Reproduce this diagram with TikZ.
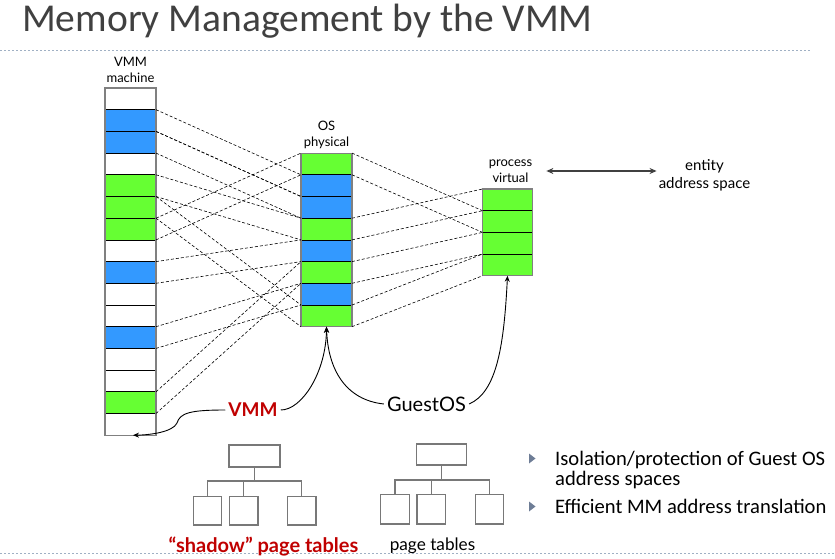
\documentclass[tikz,border=0pt]{standalone}
\usepackage{fontspec}
\setmainfont{Lato}
\newfontfamily\titlefont{Carlito}
\usetikzlibrary{arrows.meta}
\definecolor{cblue}{RGB}{51,153,255}
\definecolor{cgreen}{RGB}{102,255,51}
\definecolor{cred}{RGB}{192,0,0}
\definecolor{sepcol}{RGB}{160,176,196}
\definecolor{titlecol}{RGB}{64,64,64}
\definecolor{bulcol}{RGB}{110,125,150}
\definecolor{boxgray}{RGB}{120,120,120}
\begin{document}
\begin{tikzpicture}[x=1pt,y=-1pt,
  cell/.style={draw=black, line width=0.8pt, minimum width=51pt, minimum height=21.7pt, inner sep=0pt, outer sep=0pt},
  map/.style={dash pattern=on 3pt off 2pt, line width=0.6pt},
  lbl/.style={font=\fontsize{13}{16.5}\selectfont, align=center, inner sep=0pt},
  curvearr/.style={line width=0.9pt, -{Stealth[length=6pt,width=5pt]}},
  sep/.style={sepcol, dash pattern=on 2pt off 2pt, line width=0.8pt},
  tbox/.style={draw=boxgray, line width=1.2pt, inner sep=0pt, outer sep=0pt},
  tline/.style={boxgray, line width=1.2pt},
  bultext/.style={font=\titlefont\fontsize{20.6}{19.5}\selectfont, align=left, inner sep=0pt}
]
\useasboundingbox (0,0) rectangle (835,559);

% title and separators
\node[anchor=base west, font=\titlefont\fontsize{39.5}{42}\selectfont, text=titlecol, inner sep=0pt] (title) at (22,32) {Memory Management by the VMM};
\draw[sep] (0,50) -- (810,50);
\draw[sep] (0,553) -- (835,553);

% VMM machine column
\foreach \c [count=\i from 0] in {white,cblue,cblue,white,cgreen,cgreen,cgreen,white,cblue,white,white,cblue,white,white,cgreen,white}
  \node[cell, fill=\c, anchor=north] (L\i) at (130.5,{88+\i*21.7}) {};
\draw[gray, line width=1.2pt] (L0.north west) rectangle (L15.south east);

% OS physical column
\foreach \c [count=\i from 0] in {cgreen,cblue,cblue,cgreen,cblue,cgreen,cblue,cgreen}
  \node[cell, fill=\c, anchor=north] (M\i) at (326.5,{153.1+\i*21.7}) {};
\draw[gray, line width=1.2pt] (M0.north west) rectangle (M7.south east);

% process virtual column
\foreach \i in {0,...,3}
  \node[cell, fill=cgreen, anchor=north, minimum width=50pt] (R\i) at (507.5,{189+\i*21.7}) {};
\draw[gray, line width=1.2pt] (R0.north west) rectangle (R3.south east);

% labels
\node[lbl] (lvmm) at (130.5,70) {VMM\\machine};
\node[lbl] (los) at (326.5,135) {OS\\physical};
\node[lbl] (pv) at (510.5,171) {process\\virtual};
\node[lbl, font=\fontsize{15}{18}\selectfont] (eas) at (704.5,175) {entity\\address space};
\draw[line width=1.3pt, darkgray, {Stealth[length=7pt,width=6pt]}-{Stealth[length=7pt,width=6pt]}, shorten <=14pt, shorten >=2pt] (pv.east) -- (pv.east -| eas.west);

% mappings machine -> physical
\foreach \a/\b in {L1/M1, L2/M2, L4/M3, L6/M0, L5/M7, L8/M4, L11/M6, L14/M5} {
  \draw[map] (\a.north east) -- (\b.north west);
  \draw[map] (\a.south east) -- (\b.south west);
}
% mappings physical -> virtual
\foreach \a/\b in {M3/R0, M0/R1, M5/R2, M7/R3} {
  \draw[map] (\a.north east) -- (\b.north west);
  \draw[map] (\a.south east) -- (\b.south west);
}

% VMM and GuestOS
\node[font=\fontsize{19}{22}\selectfont\bfseries, text=cred, inner sep=3pt] (vmm) at (253,410) {VMM};
\node[font=\fontsize{20}{22}\selectfont, inner sep=3pt] (gos) at (426.5,404) {GuestOS};
\draw[curvearr] (vmm.west) .. controls (190,410) and (180,413) .. (177,423) .. controls (173,432) and (150,435) .. ([xshift=2.5pt]L15.south);
\draw[curvearr] (vmm.east) .. controls (302,410) and (326,372) .. (M7.south);
\draw[curvearr] (gos.west) .. controls (346,400) and (328,370) .. (M7.south);
\draw[curvearr] (gos.east) .. controls (497,392) and (504,345) .. (R3.south);

% shadow page tables tree
\node[tbox, minimum width=51pt, minimum height=22pt] (T1) at (254.5,456) {};
\node[tbox, minimum width=28.5pt, minimum height=28.7pt] (A1) at (207.5,510.7) {};
\node[tbox, minimum width=28.5pt, minimum height=28.7pt] (B1) at (243.8,510.7) {};
\node[tbox, minimum width=28.5pt, minimum height=28.7pt] (C1) at (301.7,510.7) {};
\coordinate (J1) at (254.5,481);
\draw[tline] (T1.south) -- (J1);
\draw[tline] (A1.north) |- (J1);
\draw[tline] (B1.north) |- (J1);
\draw[tline] (C1.north) |- (J1);
\node[font=\fontsize{20}{22}\selectfont\bfseries, text=cred, inner sep=0pt] (sptl) at (263.5,546) {“shadow” page tables};

% guest page tables tree
\node[tbox, minimum width=50pt, minimum height=21pt] (T2) at (441.7,454.5) {};
\node[tbox, minimum width=28.6pt, minimum height=29.7pt] (A2) at (395,509.2) {};
\node[tbox, minimum width=28.6pt, minimum height=29.7pt] (B2) at (431.2,509.2) {};
\node[tbox, minimum width=28.6pt, minimum height=29.7pt] (C2) at (489.5,509.2) {};
\coordinate (J2) at (441.7,480);
\draw[tline] (T2.south) -- (J2);
\draw[tline] (A2.north) |- (J2);
\draw[tline] (B2.north) |- (J2);
\draw[tline] (C2.north) |- (J2);
\node[font=\fontsize{17.2}{20}\selectfont, inner sep=0pt] (ptl) at (432.5,546) {page tables};

% bullets
\fill[bulcol] (529,453.5) -- (535.5,458.5) -- (529,463.5) -- cycle;
\fill[bulcol] (529,501.5) -- (535.5,506.5) -- (529,511.5) -- cycle;
\node[bultext, anchor=north west] (b1) at (555,451) {Isolation/protection of Guest OS\\address spaces};
\node[bultext, anchor=base west] (b2) at (555,513) {Efficient MM address translation};
\end{tikzpicture}
\end{document}
